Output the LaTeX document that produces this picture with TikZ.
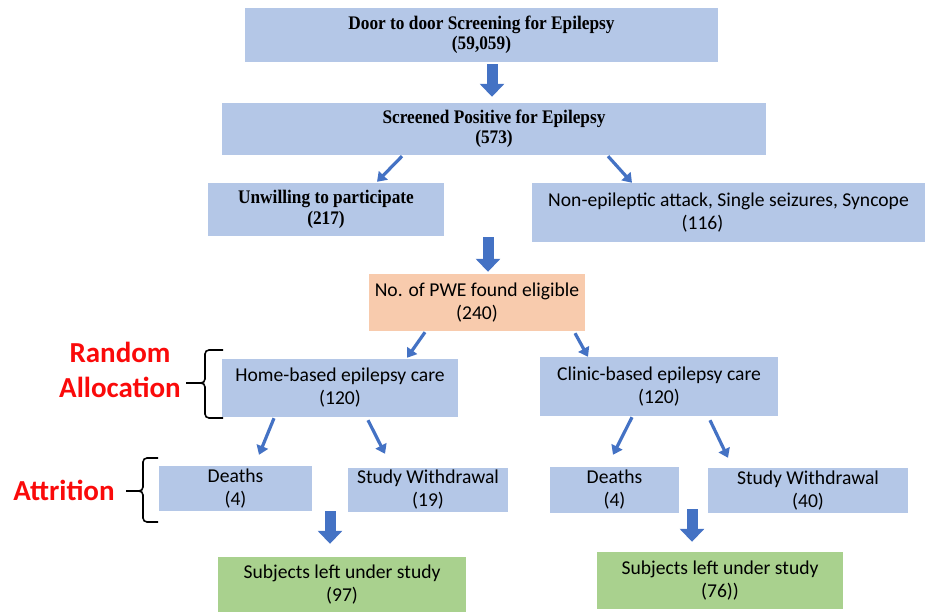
\documentclass[tikz,border=0pt]{standalone}
\usepackage{fontspec}
\setmainfont{Liberation Serif}[FakeStretch=0.9]
\newfontfamily\carlito{Carlito}
\usetikzlibrary{arrows.meta}

\begin{document}
\begin{tikzpicture}[
        x=1pt, y=-1pt,
        box/.style={fill=boxblue, inner sep=0pt, align=center},
        serif_text/.style={font=\bfseries\fontsize{19.2}{20.5}\selectfont},
        sans_text/.style={font=\carlito\fontsize{19.6}{23}\selectfont},
        side_label/.style={text=labelred, font=\carlito\bfseries\fontsize{29}{35}\selectfont, align=center},
        thin_arrow/.style={draw=arrowblue, line width=3.2pt, -{Triangle[length=9pt, width=12pt]}},
        block_arrow/.style={draw=arrowblue, line width=11pt, -{Triangle[length=13pt, width=24pt]}},
        brace_line/.style={line width=1.6pt, rounded corners=4pt}
    ]

        \definecolor{boxblue}{RGB}{180, 199, 231}
        \definecolor{boxorange}{RGB}{248, 203, 173}
        \definecolor{boxgreen}{RGB}{169, 209, 142}
        \definecolor{arrowblue}{RGB}{68, 114, 196}
        \definecolor{labelred}{RGB}{250, 10, 10}

        \useasboundingbox (0,0) rectangle (928,612);

        \node[box, serif_text, minimum width=473pt, minimum height=54pt] (door) at (481.5, 35) {Door to door Screening for Epilepsy\\(59,059)};
        \node[box, serif_text, minimum width=544pt, minimum height=52pt] (screened) at (494, 129) {Screened Positive for Epilepsy\\(573)};

        \node[box, serif_text, minimum width=236pt, minimum height=53pt] (unwilling) at (326, 209.5) {Unwilling to participate\\(217)};
        \node[box, sans_text, minimum width=393pt, minimum height=59pt] (nonepi) at (728.5, 212.5) {Non-epileptic attack, Single seizures, Syncope\\(116)\hspace*{52pt}};

        \node[box, sans_text, fill=boxorange, minimum width=216pt, minimum height=57pt] (pwe) at (477, 302.5) {No. of PWE found eligible\\(240)};

        \node[box, sans_text, minimum width=236pt, minimum height=58pt] (home) at (340, 388) {Home-based epilepsy care\\(120)};
        \node[box, sans_text, minimum width=238pt, minimum height=59pt] (clinic) at (659, 386.5) {Clinic-based epilepsy care\\(120)};

        \node[box, sans_text, minimum width=153pt, minimum height=45pt] (deathsL) at (235.5, 488.5) {Deaths\\(4)};
        \node[box, sans_text, minimum width=160pt, minimum height=44pt] (withdrawL) at (428, 490) {Study Withdrawal\\(19)};
        \node[box, sans_text, minimum width=129pt, minimum height=46pt] (deathsR) at (614.5, 490) {Deaths\\(4)};
        \node[box, sans_text, minimum width=200pt, minimum height=45pt] (withdrawR) at (808, 490.5) {Study Withdrawal\\(40)};

        \node[box, sans_text, fill=boxgreen, minimum width=248pt, minimum height=55pt] (subjL) at (342, 584.5) {Subjects left under study\\(97)};
        \node[box, sans_text, fill=boxgreen, minimum width=246pt, minimum height=57pt] (subjR) at (720, 580.5) {Subjects left under study\\(76))};

        \node[side_label] (alloc) at (120, 370) {Random\\Allocation};
        \node[side_label] (attr) at (64, 490) {Attrition};

        \draw[block_arrow] ([shift={(10.5,2)}]door.south) -- ([shift={(-2,-6)}]screened.north);
        \draw[thin_arrow] ([shift={(-92,1)}]screened.south) -- ([shift={(51,-1)}]unwilling.north);
        \draw[thin_arrow] ([shift={(114,1)}]screened.south) -- ([shift={(-96.5,0)}]nonepi.north);
        \draw[block_arrow] ([shift={(-6,82)}]screened.south) -- ([shift={(11,-2)}]pwe.north);

        \draw[thin_arrow] ([shift={(-52,1)}]pwe.south) -- ([shift={(67,-1)}]home.north);
        \draw[thin_arrow] ([shift={(98,2)}]pwe.south) -- ([shift={(-71,0)}]clinic.north);

        \draw[thin_arrow] ([shift={(-66,1)}]home.south) -- ([shift={(23.5,-11)}]deathsL.north);
        \draw[thin_arrow] ([shift={(28,3)}]home.south) -- ([shift={(-43,-14)}]withdrawL.north);
        \draw[thin_arrow] ([shift={(-27,1)}]clinic.south) -- ([shift={(-1.5,-12)}]deathsR.north);
        \draw[thin_arrow] ([shift={(51,4)}]clinic.south) -- ([shift={(-80,-10)}]withdrawR.north);

        \draw[block_arrow] ([shift={(-10,94)}]home.south) -- ([shift={(-12,-13)}]subjL.north);
        \draw[block_arrow] ([shift={(33,93)}]clinic.south) -- ([shift={(-28,-10)}]subjR.north);

        \draw[brace_line] (223, 350) -- (205, 350) -- (205, 383) -- (186, 383);
        \draw[brace_line] (186, 383) -- (205, 383) -- (205, 418) -- (223, 418);
        \draw[brace_line] (158, 458) -- (143, 458) -- (143, 491) -- (126, 491);
        \draw[brace_line] (126, 491) -- (143, 491) -- (143, 522) -- (158, 522);
    \end{tikzpicture}
\end{document}
